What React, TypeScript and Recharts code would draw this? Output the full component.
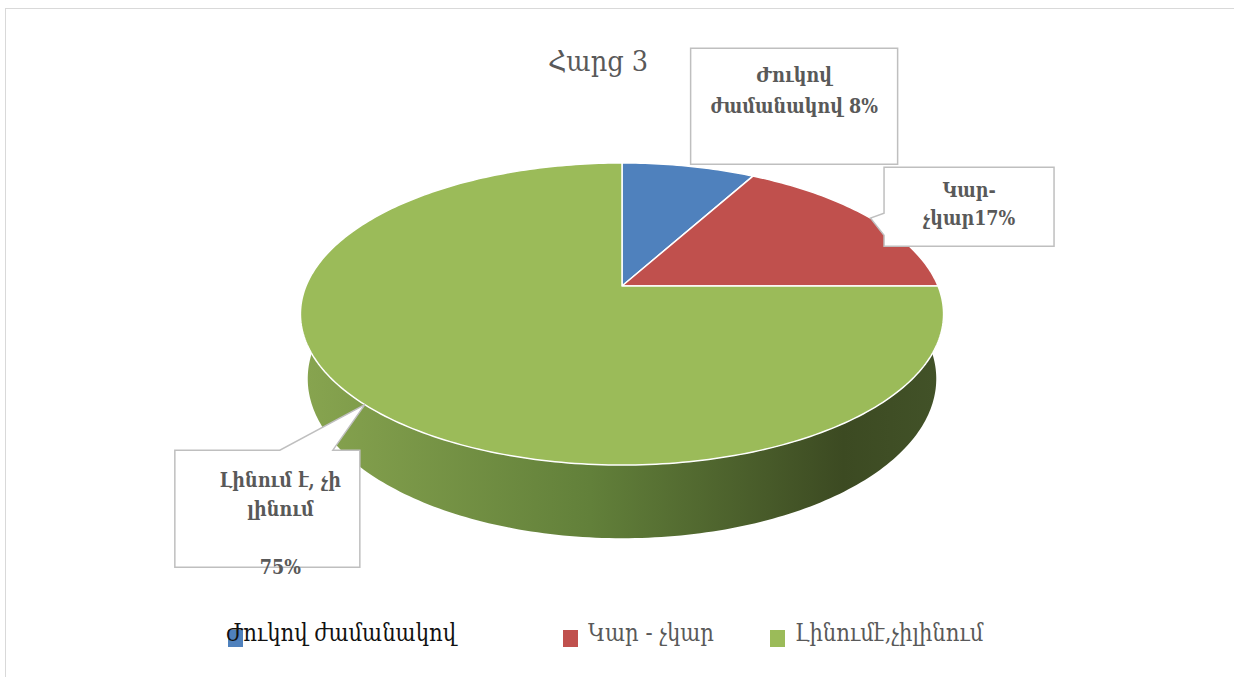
import React from "react";
import { PieChart, Pie, Cell, Legend } from "recharts";

// data
const categories = ["Ժուկով ժամանակով", "Կար - չկար", "Լինումէ,չիլինում"];
const shares = [8, 17, 75];
// text inside the callouts (percent is appended to the last line)
const labelLines = [
  ["Ժուկով", "ժամանակով "],
  ["Կար-", "չկար"],
  ["Լինում է, չի", "լինում", "", ""],
];

const COLORS = ["#4f81bd", "#c0504d", "#9bbb59"];
const LEGEND_TEXT = ["#111111", "#595959", "#595959"];
const FONT = "'DejaVu Serif Condensed', 'DejaVu Serif', serif";

const W = 1234;
const H = 677;

// perspective of the tilted disc
const TILT_SIN = 0.4615;
const TILT_COS = 0.887;
const PERSP = 0.209; // radius / camera distance
const THICK = 0.233; // thickness / radius

// callout boxes, relative to the projected slice anchor
const calloutLayout = [
  { dx: 2, dy: -118, w: 207, h: 116, first: 34, gap: 31, tx: 0 },
  { dx: 13.5, dy: -51, w: 170, h: 79, first: 30, gap: 28, tx: 0 },
  { dx: -190, dy: 45.5, w: 185, h: 117, first: 37, gap: 29, tx: 13 },
];

const legendLayout = [
  { box: 228, text: 226 },
  { box: 563, text: 588 },
  { box: 770, text: 795 },
];

const data = categories.map((name, i) => ({ name, value: shares[i] }));

function project(cx: number, cy: number, R: number, r: number, angle: number, w: number) {
  const t = (angle * Math.PI) / 180;
  const D = R / PERSP;
  const u = r * Math.cos(t);
  const v = r * Math.sin(t);
  const depth = D + v * TILT_COS - w * TILT_SIN;
  return [cx + (D * u) / depth, cy - (D * (v * TILT_SIN + w * TILT_COS)) / depth];
}

function arcPoints(cx: number, cy: number, R: number, a1: number, a2: number, w: number) {
  const n = Math.max(2, Math.ceil(Math.abs(a2 - a1)));
  const pts: number[][] = [];
  for (let i = 0; i <= n; i++) {
    pts.push(project(cx, cy, R, R, a1 + ((a2 - a1) * i) / n, w));
  }
  return pts;
}

const toPath = (pts: number[][]) =>
  pts.map((p, i) => `${i ? "L" : "M"}${p[0].toFixed(2)},${p[1].toFixed(2)}`).join(" ");

const Slice3D = (props: any) => {
  const { cx, cy, outerRadius, startAngle, endAngle, fill } = props;
  const R = outerRadius;
  const lo = Math.min(startAngle, endAngle);
  const hi = Math.max(startAngle, endAngle);
  const sides: React.ReactNode[] = [];
  [[-180, 0], [180, 360]].forEach(([f1, f2], k) => {
    const a = Math.max(lo, f1);
    const b = Math.min(hi, f2);
    if (b > a) {
      const top = arcPoints(cx, cy, R, a, b, 0);
      const bottom = arcPoints(cx, cy, R, b, a, -THICK * R);
      sides.push(
        <path key={k} d={toPath(top.concat(bottom)) + " Z"} fill="url(#sideGrad)" stroke="none" />
      );
    }
  });
  const top = [[cx, cy]].concat(arcPoints(cx, cy, R, startAngle, endAngle, 0));
  return (
    <g>
      <defs>
        <linearGradient id="sideGrad" gradientUnits="userSpaceOnUse" x1={cx - R} y1={0} x2={cx + R} y2={0}>
          <stop offset="0" stopColor="#87a44f" />
          <stop offset="0.45" stopColor="#62803a" />
          <stop offset="0.85" stopColor="#3c4a22" />
          <stop offset="1" stopColor="#425228" />
        </linearGradient>
      </defs>
      {sides}
      <path d={toPath(top) + " Z"} fill={fill} stroke="#ffffff" strokeWidth={1.5} strokeLinejoin="round" />
    </g>
  );
};

const Callout = (props: any) => {
  const { cx, cy, outerRadius, midAngle, index, percent } = props;
  const [ax, ay] = project(cx, cy, outerRadius, outerRadius, midAngle, 0);
  const L = calloutLayout[index];
  const x = ax + L.dx;
  const y = ay + L.dy;
  let d = `M${x},${y} H${x + L.w} V${y + L.h} H${x} Z`;
  if (index === 1) {
    d = `M${x},${y} H${x + L.w} V${y + L.h} H${x} V${y + 68} L${ax},${ay} L${x},${y + 46} Z`;
  } else if (index === 2) {
    d = `M${x},${y} H${x + 105} L${ax},${ay} L${x + 158},${y} H${x + L.w} V${y + L.h} H${x} Z`;
  }
  const lines = labelLines[index].slice();
  lines[lines.length - 1] += `${Math.round(percent * 100)}%`;
  return (
    <g>
      <path d={d} fill="#ffffff" stroke="#bfbfbf" strokeWidth={1.5} />
      {lines.map((t, i) => (
        <text
          key={i}
          x={x + L.w / 2 + L.tx}
          y={y + L.first + i * L.gap}
          textAnchor="middle"
          fontFamily={FONT}
          fontWeight="bold"
          fontSize={19.5}
          fill="#595959"
        >
          {t}
        </text>
      ))}
    </g>
  );
};

const renderLegend = (props: any) => {
  const payload = (props.payload || [])
    .slice()
    .sort((a: any, b: any) => categories.indexOf(a.value) - categories.indexOf(b.value));
  return (
    <div style={{ position: "relative", width: W, height: 0 }}>
      {payload.map((entry: any) => {
        const i = categories.indexOf(entry.value);
        return (
          <React.Fragment key={entry.value}>
            <div
              style={{
                position: "absolute",
                left: legendLayout[i].box,
                top: 630,
                width: 15,
                height: 17,
                background: entry.color,
              }}
            />
            <div
              style={{
                position: "absolute",
                left: legendLayout[i].text,
                top: 618,
                fontFamily: FONT,
                fontSize: 23.5,
                lineHeight: "30px",
                whiteSpace: "nowrap",
                color: LEGEND_TEXT[i],
              }}
            >
              {entry.value}
            </div>
          </React.Fragment>
        );
      })}
    </div>
  );
};

export default function App() {
  return (
    <div
      style={{
        position: "absolute",
        left: 0,
        top: 0,
        width: W,
        height: H,
        overflow: "hidden",
        background: "#ffffff",
      }}
    >
      <div
        style={{
          position: "absolute",
          left: 5,
          top: 8,
          width: 1260,
          height: 700,
          border: "1.5px solid #d9d9d9",
        }}
      />
      <div
        style={{
          position: "absolute",
          left: 498,
          top: 44,
          width: 200,
          textAlign: "center",
          fontFamily: FONT,
          fontSize: 28.5,
          lineHeight: "36px",
          color: "#595959",
        }}
      >
        Հարց 3
      </div>
      <div style={{ position: "absolute", left: 0, top: 0 }}>
        <PieChart width={W} height={H} margin={{ top: 0, right: 0, bottom: 0, left: 0 }}>
          <Pie
            data={data}
            dataKey="value"
            nameKey="name"
            cx={622}
            cy={286}
            outerRadius={316}
            startAngle={90}
            endAngle={-270}
            stroke="#ffffff"
            activeShape={Slice3D}
            inactiveShape={Slice3D}
            shape={Slice3D}
            label={Callout}
            labelLine={false}
            isAnimationActive={false}
          >
            {data.map((d, i) => (
              <Cell key={d.name} fill={COLORS[i]} />
            ))}
          </Pie>
          <Legend
            content={renderLegend}
            wrapperStyle={{ position: "absolute", left: 0, top: 0, width: W, height: 0 }}
          />
        </PieChart>
      </div>
    </div>
  );
}
